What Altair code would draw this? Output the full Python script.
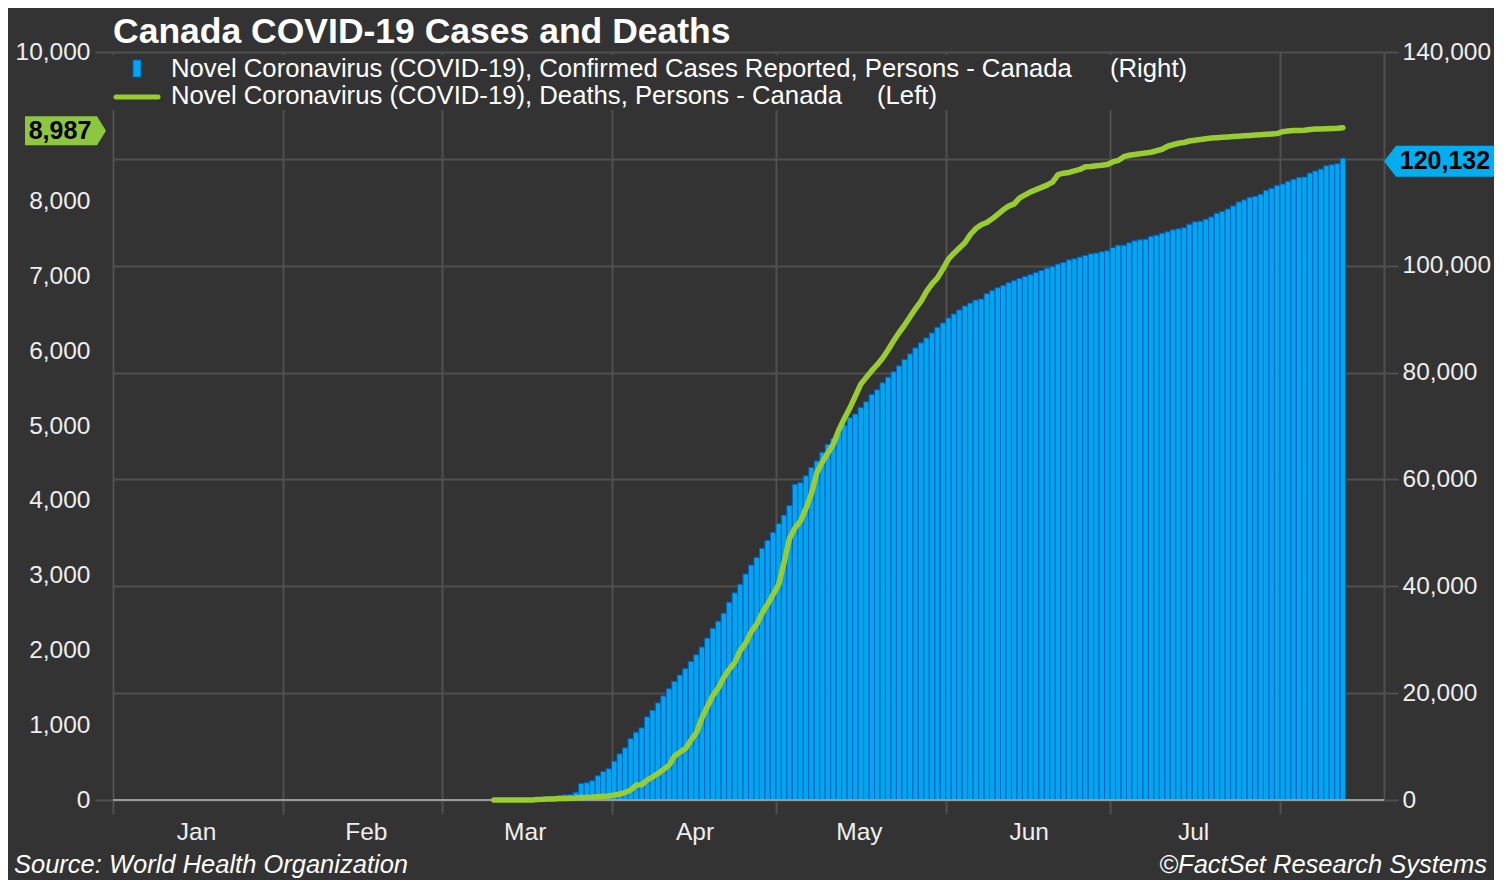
import altair as alt
import pandas as pd

# ---------------- data ----------------
TITLE = "Canada COVID-19 Cases and Deaths"
CASES_LABEL = "Novel Coronavirus (COVID-19), Confirmed Cases Reported, Persons - Canada"
DEATHS_LABEL = "Novel Coronavirus (COVID-19), Deaths, Persons - Canada"
RIGHT_TAG = "(Right)"
LEFT_TAG = "(Left)"
SOURCE = "Source: World Health Organization"
CREDIT = "\u00a9FactSet Research Systems"

MONTH_START_DAYS = [0, 31, 60, 91, 121, 152, 182, 213]
MONTH_NAMES = ["Jan", "Feb", "Mar", "Apr", "May", "Jun", "Jul", ""]
X_DOMAIN = [0, 232]  # days since Jan 1, 2020

LEFT_TICKS = [0, 1000, 2000, 3000, 4000, 5000, 6000, 7000, 8000, 9000, 10000]
RIGHT_TICKS = [0, 20000, 40000, 60000, 80000, 100000, 120000, 140000]

# cumulative confirmed cases, one value per day starting Jan 26 (day 25)
CASES_FIRST_DAY = 25
CASES = [
    1, 1, 2, 2, 3, 3, 4, 4, 4, 4, 4, 5, 7, 7, 7, 7, 7, 7, 7, 7, 8, 8, 8, 8, 8, 8,
    9, 9, 9, 10, 10, 11, 13, 14, 20, 24, 24, 27, 30, 33, 45, 54, 62, 64, 77, 79,
    93, 103, 138, 176, 244, 304, 424,
    500, 600, 690, 850, 950, 1000, 1430,
    3110, 3235, 3610, 4540, 5350, 5850, 7280, 8650, 9770, 11510, 12690, 13500,
    15560, 16800, 18170, 19480, 20840, 22210, 23400, 24580, 25950, 27190, 28620,
    30300, 32140, 33450,
    34970, 37020, 38770, 40380, 42310, 43990, 45420, 47100, 48600, 50090, 51770,
    53330, 55130, 59110, 59420, 60670, 62220, 63470, 65090, 66580, 67640, 68760,
    70190, 71560, 72240, 73490,
    74540, 75910, 76780, 78090, 79150, 80140, 81260, 82450, 83500, 84620, 85560,
    86490, 87420, 88480, 89290, 90220, 90970, 91720, 92460, 93020, 93580, 93770,
    94770, 95330, 95880, 96290,
    96820, 97190, 97630, 98000, 98310, 98750, 99120, 99560, 99870, 100300, 100620,
    101110, 101300, 101610, 101920, 102230, 102360, 102610, 102790, 103420, 103850,
    103850, 104290, 104660, 104850, 104970, 105530, 105720, 106090, 106340, 106710,
    106900, 107090, 107770, 108210, 108330, 108700, 109140, 109830, 110140, 110630,
    111190, 111940, 112310, 112810, 113000, 113370, 114120, 114490, 115050, 115300,
    115800, 116170, 116540, 116600, 117350, 117730, 118100, 118720, 118910, 119100,
    120132,
]

# cumulative deaths, one value per day starting Mar 10 (day 69)
DEATHS_FIRST_DAY = 69
DEATHS = [
    1, 1, 1, 1, 1, 1, 1, 1,
    8, 9, 12, 12, 19, 21, 25, 26,
    35, 36, 39, 44, 50, 53, 66, 80, 101, 133,
    200, 205, 267, 310, 355, 410, 467, 587, 640, 689,
    800, 900, 1100, 1250, 1400, 1500, 1640, 1750, 1840, 2000,
    2100, 2250, 2350, 2500, 2620, 2750, 2880, 3180, 3500, 3640,
    3730, 3900, 4100, 4380, 4520, 4640, 4760, 4950, 5100, 5240,
    5400, 5560, 5650, 5740, 5820, 5910, 6020, 6140, 6250, 6350,
    6460, 6570, 6670, 6800, 6900, 6980, 7100, 7230, 7310, 7380,
    7450, 7560, 7640, 7690, 7720, 7770, 7830, 7890, 7940, 7970,
    8050, 8090, 8130, 8160, 8190, 8220, 8260, 8360, 8380, 8390,
    8410, 8430, 8465, 8470, 8480, 8485, 8495, 8530, 8550, 8600,
    8620, 8630, 8640, 8650, 8660, 8680, 8700, 8740, 8760, 8780,
    8790, 8810, 8820, 8830, 8840, 8850, 8855, 8860, 8865, 8870,
    8875, 8880, 8885, 8890, 8895, 8900, 8905, 8910, 8935, 8945,
    8950, 8952, 8955, 8965, 8970, 8972, 8975, 8978, 8980, 8987,
]

# ---------------- style ----------------
FONT = "Liberation Sans"
BG = "#333333"
GRID = "#505050"
LABEL = "#eeeeee"
WHITE = "#ffffff"
CLEAR = "rgba(0,0,0,0)"
BAR_FILL = "#00a6ee"
BAR_EDGE = "#005fc4"
LINE_GREEN = "#99cc33"
TAG_GREEN = "#8dc63f"
TAG_BLUE = "#00aeef"
BASE = "#9a9a9a"

W, H = 1271, 748

cases_df = pd.DataFrame({
    "day": [CASES_FIRST_DAY + i for i in range(len(CASES))],
    "cases": CASES,
})
cases_df["day_end"] = cases_df["day"] + 1

deaths_df = pd.DataFrame({
    "day": [DEATHS_FIRST_DAY + i for i in range(len(DEATHS))],
    "deaths": DEATHS,
})
deaths_df["mid"] = deaths_df["day"] + 0.5

xs = alt.Scale(domain=X_DOMAIN, nice=False, zero=False)
right_scale = alt.Scale(domain=[0, 140000], nice=False)
left_scale = alt.Scale(domain=[0, 10000], nice=False)

label_expr = "{}[indexof({}, datum.value)]".format(
    "[" + ",".join("'%s'" % m for m in MONTH_NAMES) + "]",
    "[" + ",".join(str(d) for d in MONTH_START_DAYS) + "]",
)

x_axis = alt.Axis(
    values=MONTH_START_DAYS, labelExpr=label_expr, labelOffset=83,
    labelFlush=False, labelOverlap=False, labelBound=False, labelAngle=0,
    tickSize=14, tickWidth=2, tickColor=GRID,
    grid=True, gridColor=GRID, gridWidth=2, domain=False,
    labelFont=FONT, labelFontSize=24.5, labelColor=LABEL, labelPadding=6,
    title=None,
)

# the value tags sit over the 120,000 and 9,000 labels, which are left blank
right_axis = alt.Axis(
    orient="right", values=RIGHT_TICKS,
    labelExpr="datum.value === 120000 ? '' : format(datum.value, ',')",
    grid=True, gridColor=GRID, gridWidth=2,
    domain=True, domainColor=GRID, domainWidth=2,
    tickSize=14, tickWidth=2, tickColor=GRID,
    labelFont=FONT, labelFontSize=24.5, labelPadding=4, labelColor=LABEL,
    labelOverlap=False, labelFlush=False, title=None,
)

left_axis = alt.Axis(
    orient="left", values=LEFT_TICKS,
    labelExpr="datum.value === 9000 ? '' : format(datum.value, ',')",
    grid=False, domain=False,
    tickSize=18, tickWidth=2,
    tickColor={"condition": {"test": "datum.value === 0 || datum.value === 10000",
                             "value": GRID},
               "value": CLEAR},
    labelFont=FONT, labelFontSize=24.5, labelPadding=5, labelColor=LABEL,
    labelOverlap=False, labelFlush=False, title=None,
)

# ---------------- right (cases) group ----------------
bars = alt.Chart(cases_df).mark_rect(
    fill=BAR_FILL, stroke=BAR_EDGE, strokeWidth=1
).encode(
    x=alt.X("day:Q", scale=xs, axis=x_axis),
    x2="day_end:Q",
    y=alt.Y("cases:Q", scale=right_scale, axis=right_axis),
    y2=alt.datum(0),
)

last_case = pd.DataFrame({"v": [CASES[-1]]})
BLUE_PATH = "M -1 0 L -0.782 -0.282 L 1 -0.282 L 1 0.282 L -0.782 0.282 Z"
blue_box = alt.Chart(last_case).mark_point(
    shape=BLUE_PATH, size=12100, filled=True, fill=TAG_BLUE, opacity=1,
    strokeWidth=0, yOffset=3,
).encode(x=alt.value(1326), y=alt.Y("v:Q", scale=right_scale, axis=right_axis))
blue_text = alt.Chart(last_case).mark_text(
    font=FONT, fontSize=25, fontWeight="bold", color="#000000",
    align="center", baseline="middle", yOffset=3,
).encode(x=alt.value(1332), y=alt.Y("v:Q", scale=right_scale, axis=right_axis),
         text=alt.Text("v:Q", format=","))

right_group = alt.layer(bars, blue_box, blue_text)

# ---------------- left (deaths) group ----------------
line = alt.Chart(deaths_df).mark_line(
    color=LINE_GREEN, strokeWidth=5.5, strokeCap="round", strokeJoin="round"
).encode(
    x=alt.X("mid:Q", scale=xs, axis=x_axis),
    y=alt.Y("deaths:Q", scale=left_scale, axis=left_axis),
)

last_death = pd.DataFrame({"v": [DEATHS[-1]]})
GREEN_PATH = "M -1 -0.358 L 0.778 -0.358 L 1 0 L 0.778 0.358 L -1 0.358 Z"
green_box = alt.Chart(last_death).mark_point(
    shape=GREEN_PATH, size=6561, filled=True, fill=TAG_GREEN, opacity=1,
    strokeWidth=0, yOffset=3,
).encode(x=alt.value(-47.5), y=alt.Y("v:Q", scale=left_scale, axis=left_axis))
green_text = alt.Chart(last_death).mark_text(
    font=FONT, fontSize=25, fontWeight="bold", color="#000000",
    align="center", baseline="middle", yOffset=3,
).encode(x=alt.value(-53), y=alt.Y("v:Q", scale=left_scale, axis=left_axis),
         text=alt.Text("v:Q", format=","))

left_group = alt.layer(line, green_box, green_text)

# ---------------- decorations ----------------
one = pd.DataFrame({"k": [0]})

baseline = alt.Chart(one).mark_rule(color=BASE, strokeWidth=2).encode(
    x=alt.value(0), x2=alt.value(W), y=alt.value(H)
)

legend_bg = alt.Chart(one).mark_rect(fill=BG, strokeWidth=0).encode(
    x=alt.value(-2), x2=alt.value(1087), y=alt.value(3), y2=alt.value(58)
)
legend_bar = alt.Chart(one).mark_rect(
    fill=BAR_FILL, stroke=BAR_EDGE, strokeWidth=1
).encode(x=alt.value(20), x2=alt.value(28), y=alt.value(8), y2=alt.value(25))
legend_line = alt.Chart(one).mark_rule(
    color=LINE_GREEN, strokeWidth=5, strokeCap="round"
).encode(x=alt.value(3), x2=alt.value(45), y=alt.value(45))


def txt(s, x, y, size, align="left", weight="normal", style="normal", color=WHITE):
    return alt.Chart(pd.DataFrame({"t": [s]})).mark_text(
        font=FONT, fontSize=size, fontWeight=weight, fontStyle=style,
        color=color, align=align, baseline="alphabetic",
    ).encode(x=alt.value(x), y=alt.value(y), text="t:N")


title = txt(TITLE, 0, -9, 35.5, weight="bold")
leg1 = txt(CASES_LABEL, 58, 25, 25.7)
leg1r = txt(RIGHT_TAG, 997, 25, 25.7)
leg2 = txt(DEATHS_LABEL, 58, 52, 25.7)
leg2l = txt(LEFT_TAG, 764, 52, 25.7)
source = txt(SOURCE, -99, 821, 25.5, style="italic")
credit = txt(CREDIT, 1374, 821, 25.5, align="right", style="italic")

chart = alt.layer(
    right_group, baseline, left_group,
    legend_bg, legend_bar, legend_line, leg1, leg1r, leg2, leg2l,
    title, source, credit,
).resolve_scale(y="independent").properties(
    width=W, height=H,
    autosize=alt.AutoSizeParams(type="none"),
    padding={"left": 105, "top": 44, "right": 110, "bottom": 80},
    background=BG,
).configure_view(stroke=None)

chart.save("out.html", embed_options={"renderer": "svg", "actions": False})
